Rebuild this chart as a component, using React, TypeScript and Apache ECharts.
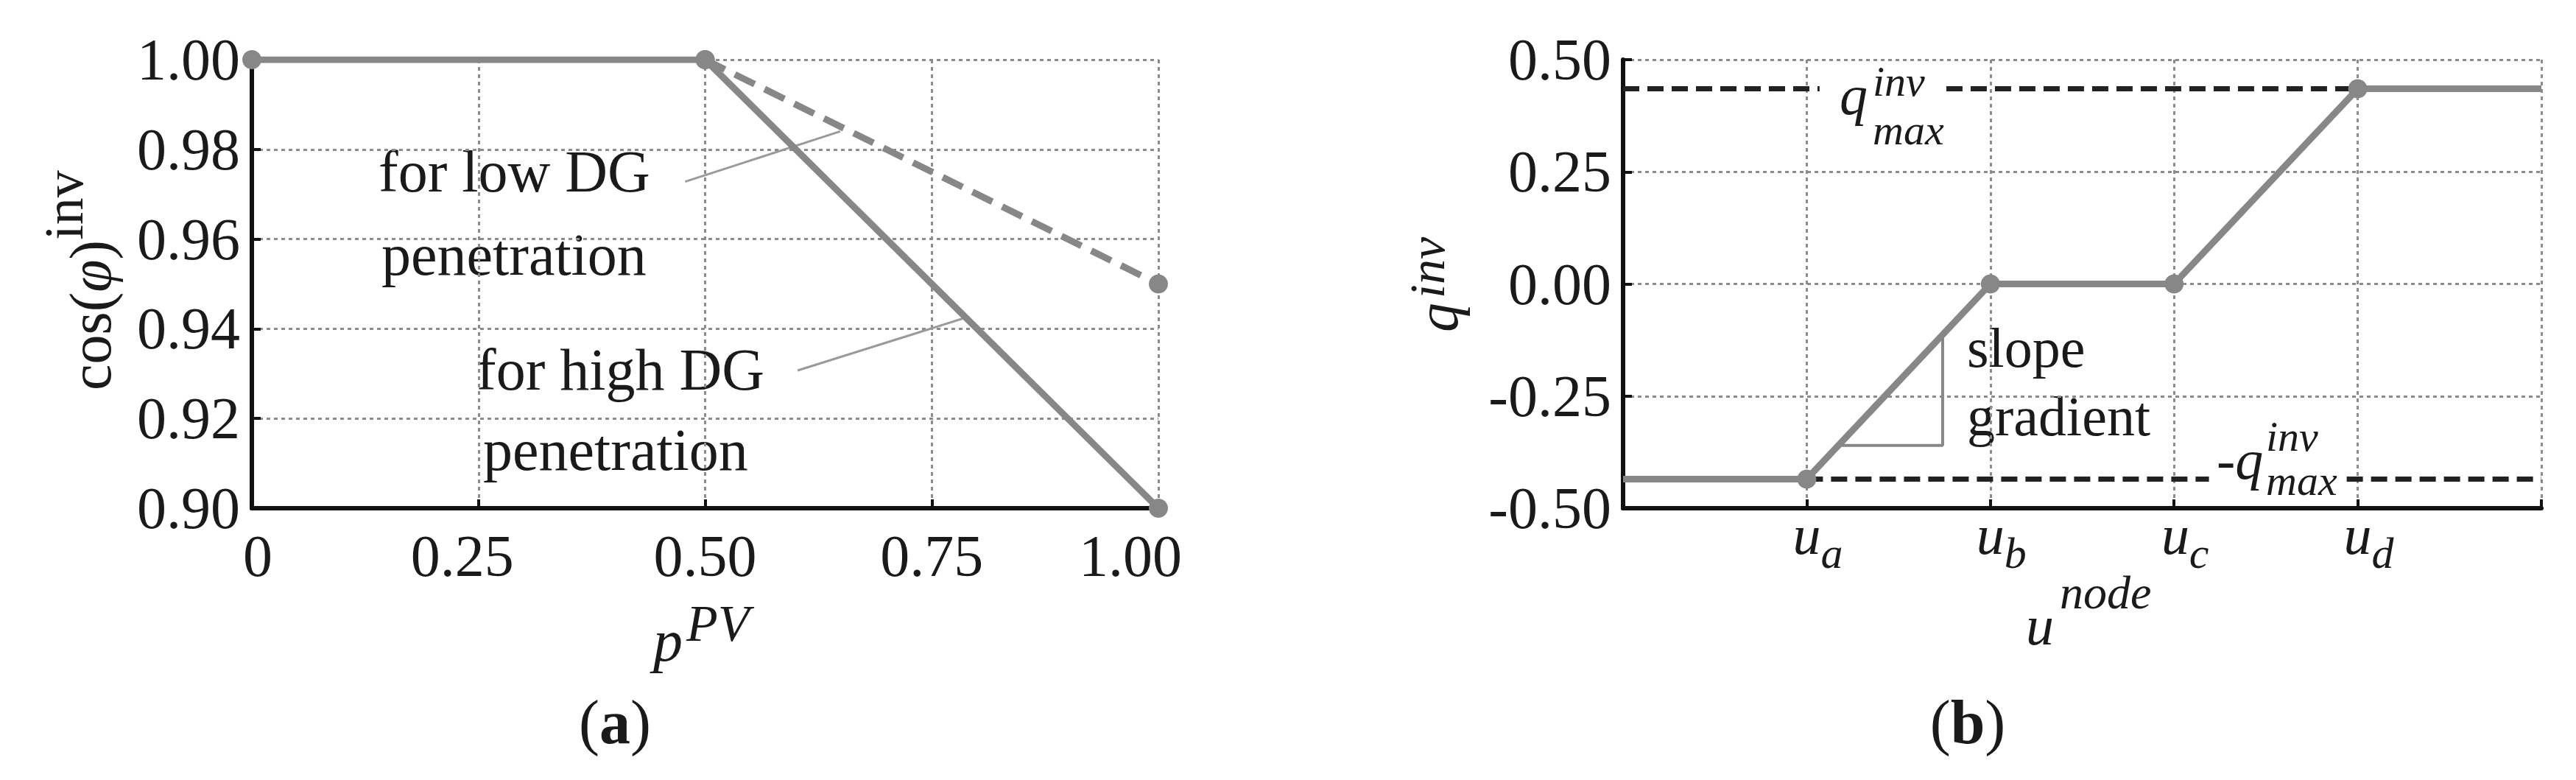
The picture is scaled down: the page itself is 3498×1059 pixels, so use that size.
import React, { useEffect, useRef } from 'react';
import * as echarts from 'echarts';

// ---------- panel (a) data ----------
const pvMin = 0;
const pvMax = 1.0;
const pvInterval = 0.25;
const cosMin = 0.9;
const cosMax = 1.0;
const cosInterval = 0.02;
const highPenetrationX = [0, 0.5, 1.0];
const highPenetrationY = [1.0, 1.0, 0.9];
const lowPenetrationX = [0.5, 1.0];
const lowPenetrationY = [1.0, 0.95];
const lowLeader = [[0.478, 0.9728], [0.649, 0.984]];
const highLeader = [[0.602, 0.9307], [0.786, 0.9424]];

// ---------- panel (b) data ----------
const uNodeX = [0, 1, 2, 3, 4, 5];
const uTickLabels = ['', 'a', 'b', 'c', 'd', ''];
const qInvY = [-0.435, -0.435, 0, 0, 0.435, 0.435];
const qInvMarked = [false, true, true, true, true, false];
const qMax = 0.435;
const qMaxUpperSegments = [[0, 1.07], [1.76, 4]];
const qMaxLowerSegments = [[1, 3.19], [3.94, 5]];
const slopeTriangle = [[1.17, -0.36], [1.74, -0.36], [1.74, -0.114]];

const SERIF = 'Liberation Serif';
const INK = '#1a1a1a';
const GRAY = '#878787';

const txt = (x: number, y: number, text: string, size: number, extra: any = {}) => ({
  type: 'text',
  x,
  y,
  silent: true,
  style: {
    text,
    fontSize: size,
    fontFamily: SERIF,
    fill: INK,
    align: 'left',
    verticalAlign: 'middle',
    ...extra,
  },
});

export default function App() {
  const ref = useRef<HTMLDivElement>(null);

  useEffect(() => {
    if (!ref.current) return;
    const chart = echarts.init(ref.current, null, { renderer: 'svg' });

    const axisLineStyle = { color: '#111', width: 6 };
    const tickStyle = { show: true, inside: true, length: 12, lineStyle: { color: '#111', width: 4 } };
    const splitStyle = { show: true, lineStyle: { color: '#8c8c8c', width: 3, type: [5, 5] } };
    const labelBase = { fontSize: 80, fontFamily: SERIF, color: INK };

    const highData = highPenetrationX.map((x, i) => [x, highPenetrationY[i]]);
    const lowData = lowPenetrationX.map((x, i) => [x, lowPenetrationY[i]]);
    const qData = uNodeX.map((x, i) => ({
      value: [x, qInvY[i]],
      symbol: qInvMarked[i] ? 'circle' : 'none',
    }));

    const dashedSeg = (seg: number[], level: number, idx: number) => ({
      type: 'line',
      xAxisIndex: 1,
      yAxisIndex: 1,
      data: [[seg[0], level], [seg[1], level]],
      symbol: 'none',
      lineStyle: { color: '#222', width: 7, type: [22, 11] },
      z: 2,
      silent: true,
      name: 'qmax' + idx,
    });

    const option: any = {
      animation: false,
      backgroundColor: '#ffffff',
      grid: [
        { left: 342, top: 81, width: 1231, height: 609, outerBoundsMode: 'none', containLabel: false },
        { left: 2204, top: 81, width: 1247, height: 609, outerBoundsMode: 'none', containLabel: false },
      ],
      xAxis: [
        {
          type: 'value',
          gridIndex: 0,
          min: pvMin,
          max: pvMax,
          interval: pvInterval,
          axisLine: { show: true, onZero: false, lineStyle: axisLineStyle },
          axisTick: tickStyle,
          splitLine: splitStyle,
          axisLabel: {
            ...labelBase,
            margin: 25,
            formatter: (v: number) => {
              if (v === 0) return '{z|0}';
              if (Math.abs(v - 0.25) < 1e-9) return '{l|' + v.toFixed(2) + '}';
              if (Math.abs(v - 1) < 1e-9) return '{r|' + v.toFixed(2) + '}';
              return v.toFixed(2);
            },
            rich: {
              z: { ...labelBase, padding: [0, 0, 0, 16] },
              l: { ...labelBase, padding: [0, 44, 0, 0] },
              r: { ...labelBase, padding: [0, 76, 0, 0] },
            },
          },
        },
        {
          type: 'value',
          gridIndex: 1,
          min: 0,
          max: 5,
          interval: 1,
          axisLine: { show: true, onZero: false, lineStyle: axisLineStyle },
          axisTick: tickStyle,
          splitLine: splitStyle,
          axisLabel: {
            margin: -19,
            formatter: (v: number) => {
              const i = uNodeX.indexOf(v);
              const s = i >= 0 ? uTickLabels[i] : '';
              return s ? `{u|u}{s|${s}}` : '';
            },
            rich: {
              u: { fontSize: 76, fontFamily: SERIF, fontStyle: 'italic', color: INK, padding: [0, 0, 0, 30] },
              s: { fontSize: 60, fontFamily: SERIF, fontStyle: 'italic', color: INK, padding: [50, 0, 0, 0] },
            },
          },
        },
      ],
      yAxis: [
        {
          type: 'value',
          gridIndex: 0,
          min: cosMin,
          max: cosMax,
          interval: cosInterval,
          axisLine: { show: true, onZero: false, lineStyle: axisLineStyle },
          axisTick: tickStyle,
          splitLine: splitStyle,
          axisLabel: { ...labelBase, margin: 16, formatter: (v: number) => v.toFixed(2) },
        },
        {
          type: 'value',
          gridIndex: 1,
          min: -0.5,
          max: 0.5,
          interval: 0.25,
          axisLine: { show: true, onZero: false, lineStyle: axisLineStyle },
          axisTick: tickStyle,
          splitLine: splitStyle,
          axisLabel: { ...labelBase, margin: 16, formatter: (v: number) => v.toFixed(2) },
        },
      ],
      series: [
        {
          type: 'line',
          name: 'low DG',
          xAxisIndex: 0,
          yAxisIndex: 0,
          data: lowData,
          symbol: 'circle',
          symbolSize: 26,
          itemStyle: { color: GRAY },
          lineStyle: { color: GRAY, width: 9, type: [30, 15] },
          z: 3,
        },
        {
          type: 'line',
          name: 'high DG',
          xAxisIndex: 0,
          yAxisIndex: 0,
          data: highData,
          symbol: 'circle',
          symbolSize: 26,
          itemStyle: { color: GRAY },
          lineStyle: { color: GRAY, width: 9 },
          z: 4,
        },
        {
          type: 'line',
          name: 'lowLeader',
          xAxisIndex: 0,
          yAxisIndex: 0,
          data: lowLeader,
          symbol: 'none',
          lineStyle: { color: '#9a9a9a', width: 3 },
          z: 2,
          silent: true,
        },
        {
          type: 'line',
          name: 'highLeader',
          xAxisIndex: 0,
          yAxisIndex: 0,
          data: highLeader,
          symbol: 'none',
          lineStyle: { color: '#9a9a9a', width: 3 },
          z: 2,
          silent: true,
        },
        ...qMaxUpperSegments.map((s, i) => dashedSeg(s, qMax, i)),
        ...qMaxLowerSegments.map((s, i) => dashedSeg(s, -qMax, i + 2)),
        {
          type: 'line',
          name: 'slope',
          xAxisIndex: 1,
          yAxisIndex: 1,
          data: slopeTriangle,
          symbol: 'none',
          lineStyle: { color: GRAY, width: 4 },
          z: 3,
          silent: true,
        },
        {
          type: 'line',
          name: 'q inv',
          xAxisIndex: 1,
          yAxisIndex: 1,
          data: qData,
          symbolSize: 26,
          itemStyle: { color: GRAY },
          lineStyle: { color: GRAY, width: 9 },
          z: 5,
        },
      ],
      graphic: [
        // panel (a) annotations
        txt(514, 233, 'for low DG', 80),
        txt(518, 346, 'penetration', 80),
        txt(647, 502, 'for high DG', 80),
        txt(656, 611, 'penetration', 80),
        // x-axis name p^PV
        txt(887, 870, 'p', 80, { fontStyle: 'italic' }),
        txt(932, 846, 'PV', 70, { fontStyle: 'italic' }),
        // y-axis name cos(phi)^inv
        {
          type: 'text',
          x: 123,
          y: 530,
          rotation: Math.PI / 2,
          silent: true,
          style: {
            text: '{a|cos(}{p|φ}{a|)}{s|inv}',
            align: 'left',
            verticalAlign: 'middle',
            fill: INK,
            fontFamily: SERIF,
            fontSize: 80,
            rich: {
              a: { fontSize: 80, fontFamily: SERIF, fill: INK },
              p: { fontSize: 80, fontFamily: SERIF, fontStyle: 'italic', fill: INK },
              s: { fontSize: 74, fontFamily: SERIF, fill: INK, padding: [0, 0, 72, 0] },
            },
          },
        },
        // caption (a)
        {
          type: 'text',
          x: 835,
          y: 980,
          silent: true,
          style: {
            text: '{r|(}{b|a}{r|)}',
            align: 'center',
            verticalAlign: 'middle',
            fill: INK,
            fontFamily: SERIF,
            fontSize: 84,
            rich: {
              r: { fontSize: 84, fontFamily: SERIF, fill: INK },
              b: { fontSize: 84, fontFamily: SERIF, fontWeight: 'bold', fill: INK },
            },
          },
        },
        // panel (b) annotations
        txt(2498, 129, 'q', 76, { fontStyle: 'italic' }),
        txt(2543, 110, 'inv', 58, { fontStyle: 'italic' }),
        txt(2543, 176, 'max', 58, { fontStyle: 'italic' }),
        txt(3010, 624, '-q', 76, { fontStyle: 'italic' }),
        txt(3077, 592, 'inv', 58, { fontStyle: 'italic' }),
        txt(3077, 652, 'max', 58, { fontStyle: 'italic' }),
        txt(2671, 472, 'slope', 76),
        txt(2671, 565, 'gradient', 76),
        // x-axis name u^node
        txt(2751, 849, 'u', 76, { fontStyle: 'italic' }),
        txt(2797, 804, 'node', 64, { fontStyle: 'italic' }),
        // y-axis name q^inv
        {
          type: 'text',
          x: 1952,
          y: 451,
          rotation: Math.PI / 2,
          silent: true,
          style: {
            text: '{q|q}{s|inv}',
            align: 'left',
            verticalAlign: 'middle',
            fill: INK,
            fontFamily: SERIF,
            fontSize: 80,
            rich: {
              q: { fontSize: 80, fontFamily: SERIF, fontStyle: 'italic', fill: INK },
              s: { fontSize: 68, fontFamily: SERIF, fontStyle: 'italic', fill: INK, padding: [0, 0, 28, 6] },
            },
          },
        },
        // caption (b)
        {
          type: 'text',
          x: 2672,
          y: 980,
          silent: true,
          style: {
            text: '{r|(}{b|b}{r|)}',
            align: 'center',
            verticalAlign: 'middle',
            fill: INK,
            fontFamily: SERIF,
            fontSize: 84,
            rich: {
              r: { fontSize: 84, fontFamily: SERIF, fill: INK },
              b: { fontSize: 84, fontFamily: SERIF, fontWeight: 'bold', fill: INK },
            },
          },
        },
      ],
    };

    chart.setOption(option);
    return () => chart.dispose();
  }, []);

  return (
    <div
      ref={ref}
      style={{ position: 'fixed', left: 0, top: 0, width: 3498, height: 1059, background: '#fff' }}
    />
  );
}
